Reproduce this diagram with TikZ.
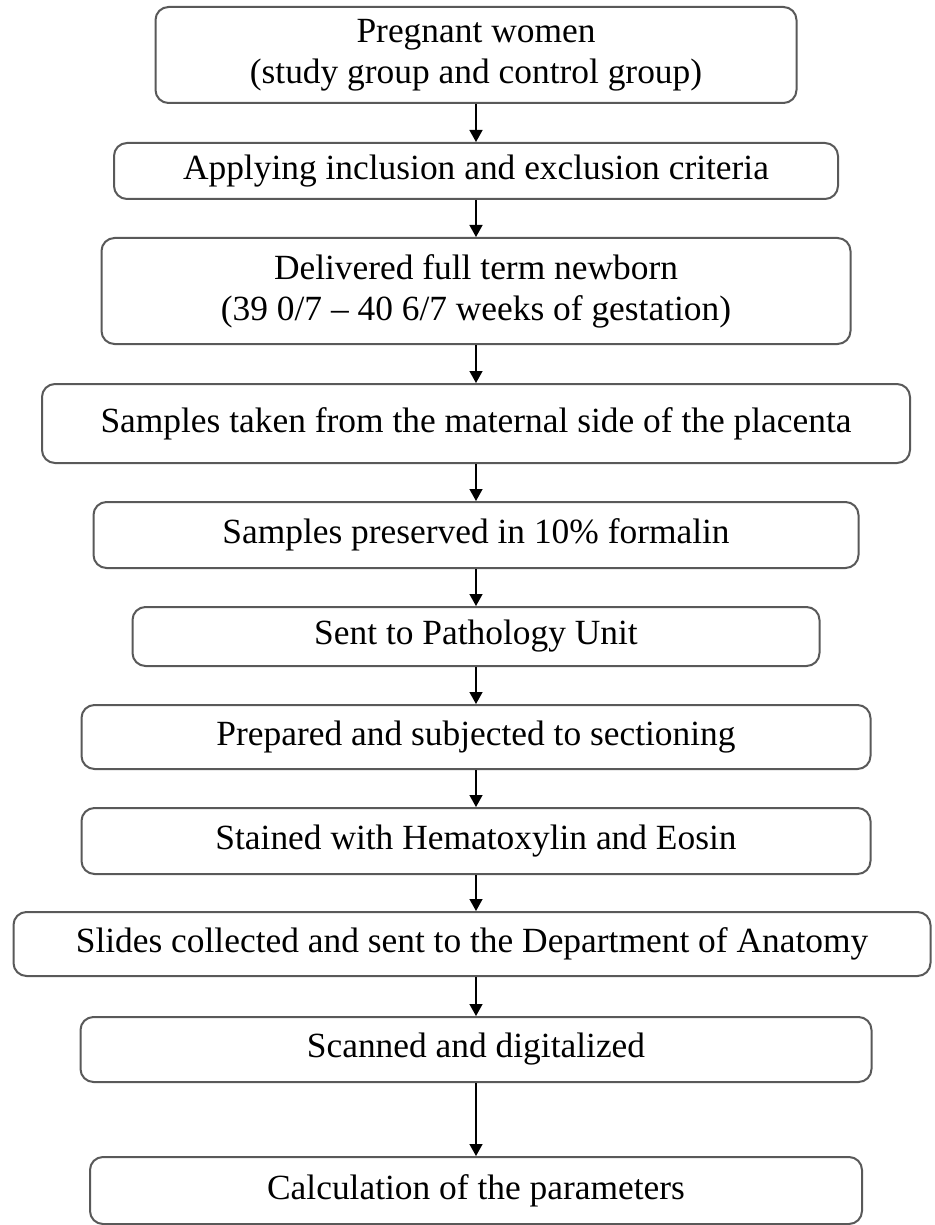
\documentclass[tikz,border=0pt]{standalone}
\usepackage{fontspec}
\setmainfont{Liberation Serif}
\usepackage{tikz}
\usetikzlibrary{positioning,arrows.meta}

\begin{document}
\begin{tikzpicture}
  [x=0.5pt,y=-0.5pt,
   every node/.style={rectangle,rounded corners=6.5pt,draw=black!65,line width=1pt,fill=white,
     align=center,inner sep=2pt,font=\fontsize{17.7}{20.5}\selectfont},
   arr/.style={-{Triangle[length=6pt,width=6.5pt]},line width=0.7pt,black}]
  \useasboundingbox (0,0) rectangle (934,1225);
  \node[minimum width=320.5pt,minimum height=48pt]   (s1) at (476,55)     {Pregnant women\\(study group and control group)};
  \node[minimum width=362pt,minimum height=28pt]     (s2) at (476,171)    {Applying inclusion and exclusion criteria};
  \node[minimum width=374.5pt,minimum height=53pt]   (s3) at (476,291)    {Delivered full term newborn\\(39 0/7 -- 40 6/7 weeks of gestation)};
  \node[minimum width=434pt,minimum height=39.5pt]   (s4) at (476,423.5)  {Samples taken from the maternal side of the placenta};
  \node[minimum width=382.5pt,minimum height=33pt]   (s5) at (476,535)    {Samples preserved in 10\% formalin};
  \node[minimum width=343.5pt,minimum height=29.5pt] (s6) at (476,636.5)  {Sent to Pathology Unit};
  \node[minimum width=394.5pt,minimum height=32pt]   (s7) at (476,737)    {Prepared and subjected to sectioning};
  \node[minimum width=394.5pt,minimum height=33pt]   (s8) at (476,841)    {Stained with Hematoxylin and Eosin};
  \node[minimum width=458.5pt,minimum height=32pt]   (s9) at (472,944)    {Slides collected and sent to the Department of Anatomy};
  \node[minimum width=395.5pt,minimum height=32.5pt] (s10) at (476,1049.5) {Scanned and digitalized};
  \node[minimum width=386pt,minimum height=33.5pt]   (s11) at (476,1190.5) {Calculation of the parameters};

  \draw[arr] (s1) -- (s2);
  \draw[arr] (s2) -- (s3);
  \draw[arr] (s3) -- (s4);
  \draw[arr] (s4) -- (s5);
  \draw[arr] (s5) -- (s6);
  \draw[arr] (s6) -- (s7);
  \draw[arr] (s7) -- (s8);
  \draw[arr] (s8) -- (s9.north -| s8.south);
  \draw[arr] (s9.south -| s10.north) -- (s10);
  \draw[arr] (s10) -- (s11);
\end{tikzpicture}
\end{document}
